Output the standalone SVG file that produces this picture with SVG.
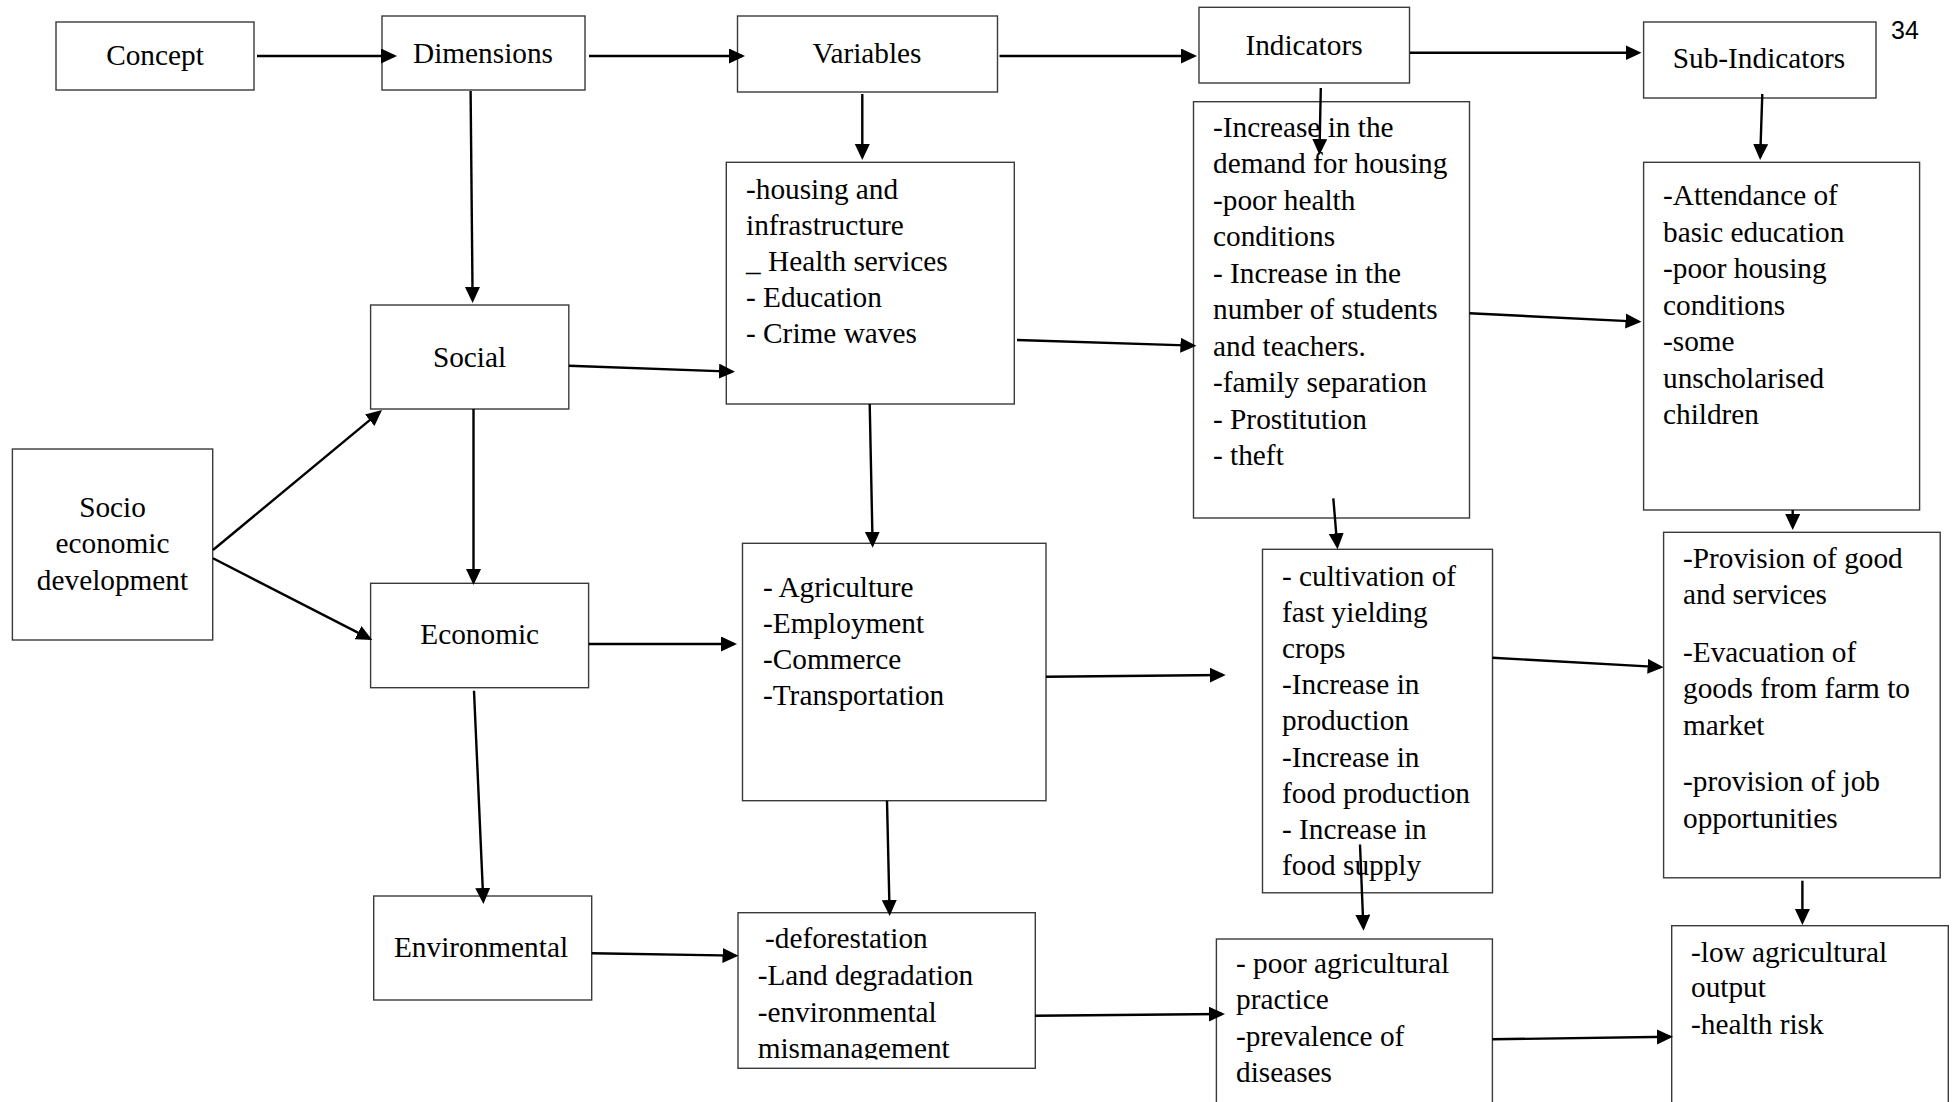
<svg xmlns="http://www.w3.org/2000/svg" width="1953" height="1102" viewBox="0 0 1953 1102">
<style>
.box{fill:#fff;stroke:#3a3a3a;stroke-width:1.4}
.t{font-family:"Liberation Serif","Times New Roman",serif;font-size:29.3px;fill:#000}
.c{text-anchor:middle}
.a{stroke:#000;stroke-width:2.4;fill:none;marker-end:url(#ah)}
.pg{font-family:"Liberation Sans",Arial,sans-serif;font-size:25px;fill:#000}
</style>
<defs>
<marker id="ah" markerUnits="userSpaceOnUse" markerWidth="17" markerHeight="16" refX="13" refY="7.5" orient="auto">
<path d="M0,0 L16,7.5 L0,15 z" fill="#000"/>
</marker>
<clipPath id="clipDefor"><rect x="730" y="905" width="310" height="154.5"/></clipPath>
</defs>
<rect width="1953" height="1102" fill="#fff"/>

<g id="concept"><rect class="box" x="56" y="22" width="198" height="68"/><text class="t c" x="155" y="65">Concept</text></g>
<g id="dimensions"><rect class="box" x="382" y="16" width="203" height="74"/><text class="t c" x="483" y="62.7">Dimensions</text></g>
<g id="variables"><rect class="box" x="737.5" y="16" width="260" height="76"/><text class="t c" x="867" y="63.3">Variables</text></g>
<g id="indicators"><rect class="box" x="1199" y="7.3" width="210.5" height="75.7"/><text class="t c" x="1304" y="55">Indicators</text></g>
<g id="subindicators"><rect class="box" x="1643.6" y="22" width="232.4" height="76"/><text class="t c" x="1759" y="68.3">Sub-Indicators</text></g>
<text id="page" class="pg" x="1891" y="38.5">34</text>

<g id="social"><rect class="box" x="370.6" y="305" width="198.2" height="104"/><text class="t c" x="469.5" y="366.7">Social</text></g>
<g id="economic"><rect class="box" x="370.6" y="583.3" width="218" height="104.4"/><text class="t c" x="479.7" y="644">Economic</text></g>
<g id="environmental"><rect class="box" x="373.7" y="896" width="218" height="104"/><text class="t c" x="481" y="957.3">Environmental</text></g>
<g id="socio"><rect class="box" x="12.4" y="449" width="200.3" height="191"/><text class="t c" y="516.7"><tspan x="112.5">Socio</tspan><tspan x="112.5" dy="36.6">economic</tspan><tspan x="112.5" dy="36.7">development</tspan></text></g>

<g id="social-vars"><rect class="box" x="726.3" y="162.3" width="288" height="241.7"/><text class="t" y="198.5"><tspan x="746">-housing and</tspan><tspan x="746" dy="36.2">infrastructure</tspan><tspan x="746" dy="36.2">_ Health services</tspan><tspan x="746" dy="36.2">- Education</tspan><tspan x="746" dy="36.2">- Crime waves</tspan></text></g>
<g id="economic-vars"><rect class="box" x="742.5" y="543.3" width="303.5" height="257.4"/><text class="t" y="596.5"><tspan x="763">- Agriculture</tspan><tspan x="763" dy="36">-Employment</tspan><tspan x="763" dy="36">-Commerce</tspan><tspan x="763" dy="36">-Transportation</tspan></text></g>
<g id="env-vars"><rect class="box" x="738" y="912.7" width="297.3" height="155.6"/><text class="t" y="948.3" clip-path="url(#clipDefor)"><tspan x="765">-deforestation</tspan><tspan x="757.7" dy="37">-Land degradation</tspan><tspan x="757.7" dy="36.5">-environmental</tspan><tspan x="757.7" dy="36">mismanagement</tspan></text></g>

<g id="social-ind"><rect class="box" x="1193.5" y="101.7" width="276" height="416.3"/><text class="t" y="136.7"><tspan x="1213">-Increase in the</tspan><tspan x="1213" dy="36.5">demand for housing</tspan><tspan x="1213" dy="36.5">-poor health</tspan><tspan x="1213" dy="36.5">conditions</tspan><tspan x="1213" dy="36.5">- Increase in the</tspan><tspan x="1213" dy="36.5">number of students</tspan><tspan x="1213" dy="36.5">and teachers.</tspan><tspan x="1213" dy="36.5">-family separation</tspan><tspan x="1213" dy="36.5">- Prostitution</tspan><tspan x="1213" dy="36.5">- theft</tspan></text></g>
<g id="economic-ind"><rect class="box" x="1262.5" y="549.3" width="230" height="343.5"/><text class="t" y="585.7"><tspan x="1282">- cultivation of</tspan><tspan x="1282" dy="36.16">fast yielding</tspan><tspan x="1282" dy="36.16">crops</tspan><tspan x="1282" dy="36.16">-Increase in</tspan><tspan x="1282" dy="36.16">production</tspan><tspan x="1282" dy="36.16">-Increase in</tspan><tspan x="1282" dy="36.16">food production</tspan><tspan x="1282" dy="36.16">- Increase in</tspan><tspan x="1282" dy="36.16">food supply</tspan></text></g>
<g id="env-ind"><rect class="box" x="1216.4" y="939" width="276" height="175"/><text class="t" y="973.3"><tspan x="1236">- poor agricultural</tspan><tspan x="1236" dy="36.1">practice</tspan><tspan x="1236" dy="36.1">-prevalence of</tspan><tspan x="1236" dy="36.1">diseases</tspan></text></g>

<g id="social-sub"><rect class="box" x="1643.6" y="162.3" width="276" height="347.7"/><text class="t" y="205"><tspan x="1663">-Attendance of</tspan><tspan x="1663" dy="36.5">basic education</tspan><tspan x="1663" dy="36.5">-poor housing</tspan><tspan x="1663" dy="36.5">conditions</tspan><tspan x="1663" dy="36.5">-some</tspan><tspan x="1663" dy="36.5">unscholarised</tspan><tspan x="1663" dy="36.5">children</tspan></text></g>
<g id="economic-sub"><rect class="box" x="1663.6" y="532.3" width="276.6" height="345.5"/><text class="t"><tspan x="1683" y="567.7">-Provision of good</tspan><tspan x="1683" y="604.3">and services</tspan><tspan x="1683" y="662.3">-Evacuation of</tspan><tspan x="1683" y="698.3">goods from farm to</tspan><tspan x="1683" y="735">market</tspan><tspan x="1683" y="791">-provision of job</tspan><tspan x="1683" y="828.3">opportunities</tspan></text></g>
<g id="env-sub"><rect class="box" x="1671.7" y="925.7" width="276.6" height="190"/><text class="t" y="961.7"><tspan x="1691">-low agricultural</tspan><tspan x="1691" dy="35">output</tspan><tspan x="1691" dy="37.6">-health risk</tspan></text></g>

<g id="connectors">
<line class="a" x1="257" y1="56" x2="394" y2="56"/>
<line class="a" x1="589" y1="56" x2="742" y2="56"/>
<line class="a" x1="999.5" y1="56" x2="1194" y2="56"/>
<line class="a" x1="1410" y1="52.7" x2="1638.5" y2="52.7"/>
<line class="a" x1="470.6" y1="91" x2="472.6" y2="300"/>
<line class="a" x1="862.3" y1="94" x2="862.3" y2="157"/>
<line class="a" x1="1320.8" y1="88" x2="1319.5" y2="152"/>
<line class="a" x1="1762.3" y1="94" x2="1760.2" y2="157"/>
<line class="a" x1="569" y1="365.7" x2="732" y2="371.6"/>
<line class="a" x1="1017" y1="340" x2="1193.4" y2="345.6"/>
<line class="a" x1="1469.5" y1="313.3" x2="1638.5" y2="321.6"/>
<line class="a" x1="213" y1="550" x2="379.7" y2="411.9"/>
<line class="a" x1="213" y1="558.3" x2="369.6" y2="638.6"/>
<line class="a" x1="473.5" y1="409" x2="473.5" y2="582"/>
<line class="a" x1="869.7" y1="404" x2="872.6" y2="544.7"/>
<line class="a" x1="1333.3" y1="498.3" x2="1337.3" y2="546.3"/>
<line class="a" x1="1792.7" y1="510" x2="1792.7" y2="527"/>
<line class="a" x1="588.7" y1="644" x2="734" y2="644"/>
<line class="a" x1="1046" y1="676.7" x2="1222.7" y2="675"/>
<line class="a" x1="1492.4" y1="657.7" x2="1660.6" y2="667.1"/>
<line class="a" x1="474" y1="690.7" x2="483.3" y2="901"/>
<line class="a" x1="887" y1="800.7" x2="889.6" y2="913"/>
<line class="a" x1="1360" y1="844.5" x2="1363.4" y2="927.7"/>
<line class="a" x1="1802.4" y1="880.7" x2="1802.4" y2="922"/>
<line class="a" x1="591.8" y1="953.3" x2="735.5" y2="955.6"/>
<line class="a" x1="1035" y1="1015.7" x2="1222" y2="1014"/>
<line class="a" x1="1492.4" y1="1039.3" x2="1670" y2="1036.7"/>
</g>
</svg>
